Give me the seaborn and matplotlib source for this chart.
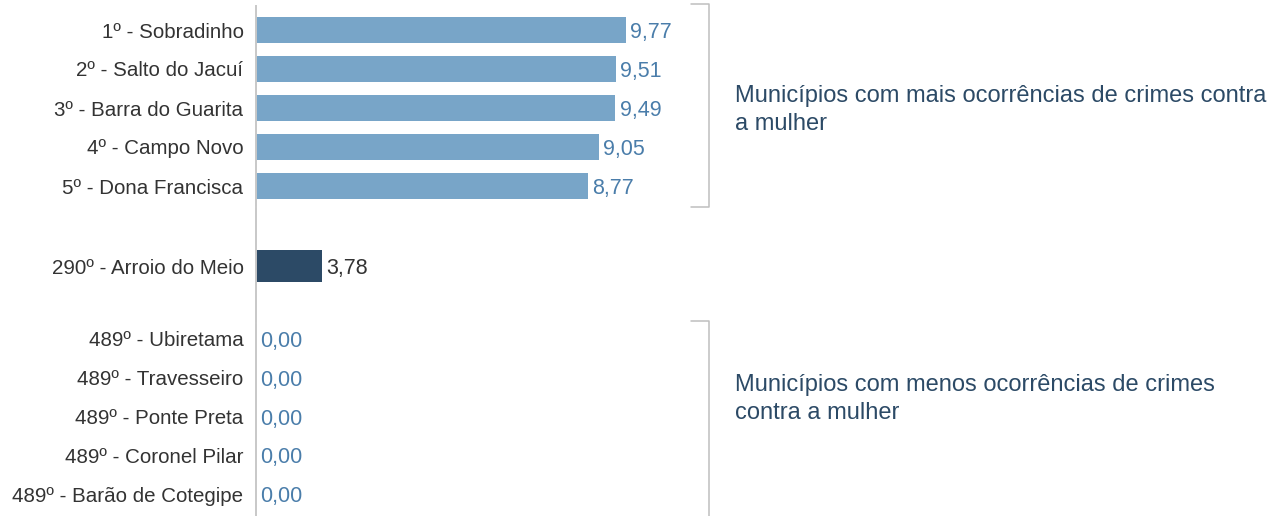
import pandas as pd
import seaborn as sns
import matplotlib.pyplot as plt
from matplotlib.lines import Line2D

# data
top_names = ['1º - Sobradinho', '2º - Salto do Jacuí', '3º - Barra do Guarita',
             '4º - Campo Novo', '5º - Dona Francisca']
top_values = [9.77, 9.51, 9.49, 9.05, 8.77]
mid_names = ['290º - Arroio do Meio']
mid_values = [3.78]
low_names = ['489º - Ubiretama', '489º - Travesseiro', '489º - Ponte Preta',
             '489º - Coronel Pilar', '489º - Barão de Cotegipe']
low_values = [0.00, 0.00, 0.00, 0.00, 0.00]

top_note = 'Municípios com mais ocorrências de crimes contra\na mulher'
low_note = 'Municípios com menos ocorrências de crimes\ncontra a mulher'

LIGHT = '#78A5C8'
DARK = '#2C4A66'
VAL_BLUE = '#4A7DAA'
TXT = '#333333'
GRID = '#C8C8C8'

sns.set_style('white')
plt.rcParams['font.family'] = ['Liberation Sans', 'DejaVu Sans']

W, H = 1268, 516
fig = plt.figure(figsize=(W / 100, H / 100), dpi=100)


def px_axes(top, bottom):
    left = 256 / W
    width = 440 / W
    return fig.add_axes([left, (H - bottom) / H, width, (bottom - top) / H])


def draw_panel(ax, names, values, color, label_color, xmax, ylim, bar_w):
    df = pd.DataFrame({'name': names, 'value': values})
    sns.barplot(data=df, x='value', y='name', orient='h', color=color,
                width=bar_w, ax=ax, saturation=1, linewidth=0)
    ax.set_xlim(0, xmax)
    ax.set_ylim(*ylim)
    ax.set(xlabel='', ylabel='')
    ax.set_xticks([])
    ax.tick_params(axis='y', length=0, pad=9, labelsize=14.8, labelcolor=TXT)
    for s in ['top', 'right', 'bottom']:
        ax.spines[s].set_visible(False)
    ax.spines['left'].set_color(GRID)
    ax.spines['left'].set_linewidth(1.4)
    labels = [f'{v:.2f}'.replace('.', ',') for v in values]
    texts = ax.bar_label(ax.containers[0], labels=labels, padding=3,
                         fontsize=15.5, color=label_color)
    for t in texts:
        t.set_va('center_baseline')


ax1 = px_axes(6, 206)
draw_panel(ax1, top_names, top_values, LIGHT, VAL_BLUE, 11.62,
           ((206 - 30) / 39, (6 - 30) / 39), 0.69)

ax2 = px_axes(208, 322)
draw_panel(ax2, mid_names, mid_values, DARK, TXT, 25.2,
           ((322 - 266) / 39, (208 - 266) / 39), 0.8)

ax3 = px_axes(324, 516)
draw_panel(ax3, low_names, low_values, LIGHT, VAL_BLUE, 11.62,
           ((516 - 339) / 38.75, (324 - 339) / 38.75), 0.69)


def fig_line(xs, ys):
    fig.add_artist(Line2D([x / W for x in xs], [(H - y) / H for y in ys],
                          color='#BFBFBF', linewidth=1.1))


# brackets on the right
fig_line([691, 709, 709, 691], [4, 4, 207, 207])
fig_line([691, 709, 709], [321, 321, 516])

fig.text(735 / W, (H - 110) / H, top_note, ha='left', va='center',
         fontsize=17, color=DARK, linespacing=1.3)
fig.text(735 / W, (H - 399) / H, low_note, ha='left', va='center',
         fontsize=17, color=DARK, linespacing=1.3)

fig.savefig('out.png', dpi=100)
